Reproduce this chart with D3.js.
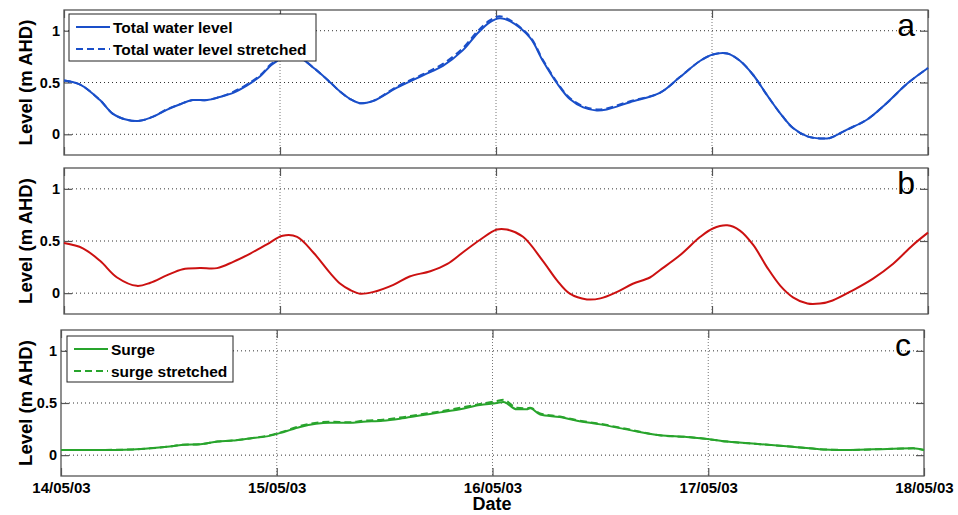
<!DOCTYPE html>
<html>
<head>
<meta charset="utf-8">
<script src="https://cdn.jsdelivr.net/npm/d3@7"></script>
<style>
  body { margin: 0; background: #fff; }
  svg { display: block; font-family: "Liberation Sans", Arial, sans-serif; }
  .tick-label { font-size: 14.5px; font-weight: bold; fill: #000; }
  .date-label { font-size: 15px; font-weight: bold; fill: #000; }
  .ylab { font-size: 18.5px; font-weight: bold; fill: #000; }
  .legend-text { font-size: 15.5px; font-weight: bold; fill: #000; }
  .panel-letter { font-size: 32px; fill: #000; }
</style>
</head>
<body>
<script>
// hours after 14/05/03 00:00
const hoursTotal = [0, 1.8, 4.0, 5.4, 7.0, 8.4, 9.9, 11.4, 12.9, 14.3, 15.9, 17.3, 18.8, 20.3, 21.8, 23.2, 25.1, 26.2, 27.9, 29.6,
  30.7, 31.8, 32.9, 34.3, 37.0, 39.9, 42.1, 44.3, 45.9, 47.3, 48.4, 49.6, 51.8, 53.2, 54.8, 56.2, 57.7, 59.2, 60.3, 62.9,
  66.2, 68.4, 70.7, 72.1, 73.7, 75.1, 76.6, 78.1, 79.6, 81.0, 82.6, 84.0, 85.1, 87.0, 89.2, 91.4, 93.7, 96.0];
const totalLevel = [0.52, 0.48, 0.33, 0.20, 0.14, 0.13, 0.17, 0.235, 0.29, 0.33, 0.33, 0.36, 0.40, 0.47, 0.56, 0.68, 0.76, 0.74, 0.63, 0.50,
  0.41, 0.34, 0.30, 0.32, 0.45, 0.57, 0.66, 0.81, 0.97, 1.08, 1.12, 1.09, 0.93, 0.71, 0.49, 0.34, 0.26, 0.23, 0.24, 0.31,
  0.40, 0.55, 0.71, 0.77, 0.78, 0.71, 0.57, 0.38, 0.20, 0.06, -0.02, -0.04, -0.035, 0.045, 0.14, 0.30, 0.49, 0.64];
const totalStretched = [0.52, 0.48, 0.33, 0.20, 0.14, 0.13, 0.17, 0.24, 0.29, 0.33, 0.33, 0.36, 0.41, 0.48, 0.57, 0.69, 0.76, 0.74, 0.63, 0.50,
  0.41, 0.34, 0.30, 0.32, 0.46, 0.58, 0.68, 0.83, 0.99, 1.10, 1.14, 1.10, 0.94, 0.72, 0.50, 0.35, 0.27, 0.24, 0.25, 0.32,
  0.40, 0.55, 0.71, 0.77, 0.78, 0.71, 0.57, 0.38, 0.20, 0.06, -0.02, -0.04, -0.035, 0.045, 0.14, 0.30, 0.49, 0.64];

const hoursTide = [0, 2.1, 4.0, 5.9, 8.1, 9.6, 11.4, 13.2, 15.1, 17.0, 18.8, 20.7, 22.6, 24.3, 25.9, 27.7, 29.6, 30.7, 31.8, 32.9,
  34.3, 36.6, 38.4, 40.7, 42.6, 44.3, 46.2, 48.1, 49.2, 51.0, 53.2, 54.8, 56.2, 58.1, 59.6, 61.4, 63.2, 65.1, 66.2, 68.4,
  70.7, 72.1, 73.7, 75.1, 76.6, 78.1, 79.6, 81.0, 82.6, 84.0, 85.4, 87.7, 89.9, 92.1, 94.3, 96.0];
const tideLevel = [0.48, 0.43, 0.31, 0.15, 0.07, 0.10, 0.17, 0.23, 0.24, 0.24, 0.30, 0.38, 0.47, 0.55, 0.54, 0.39, 0.19, 0.09, 0.03, -0.005,
  0.01, 0.08, 0.16, 0.21, 0.28, 0.39, 0.51, 0.61, 0.61, 0.54, 0.31, 0.12, -0.005, -0.06, -0.05, 0.01, 0.09, 0.15, 0.22, 0.36,
  0.54, 0.62, 0.65, 0.60, 0.46, 0.25, 0.07, -0.04, -0.10, -0.10, -0.07, 0.03, 0.14, 0.28, 0.46, 0.58];

const hoursSurge = [0, 4.3, 8.0, 9.9, 11.8, 13.6, 15.5, 17.4, 19.1, 21.0, 22.9, 24.7, 26.6, 29.9, 32.1, 33.6, 35.8, 37.7, 39.9, 42.2,
  44.4, 46.6, 48.5, 49.2, 50.7, 51.8, 52.2, 53.3, 55.5, 57.4, 60.0, 63.3, 66.6, 69.6, 71.4, 74.1, 77.8, 81.4, 84.8, 87.8,
  91.9, 94.8, 96];
const surge = [0.05, 0.05, 0.055, 0.065, 0.08, 0.10, 0.105, 0.13, 0.14, 0.16, 0.18, 0.22, 0.27, 0.31, 0.31, 0.32, 0.33, 0.35, 0.38, 0.41,
  0.44, 0.48, 0.50, 0.51, 0.44, 0.44, 0.45, 0.39, 0.365, 0.33, 0.295, 0.24, 0.19, 0.175, 0.16, 0.13, 0.105, 0.08, 0.055, 0.05,
  0.06, 0.065, 0.05];
const surgeStretched = [0.05, 0.05, 0.055, 0.065, 0.08, 0.10, 0.105, 0.13, 0.14, 0.16, 0.185, 0.225, 0.28, 0.32, 0.315, 0.33, 0.34, 0.36, 0.39, 0.42,
  0.455, 0.49, 0.52, 0.53, 0.455, 0.45, 0.455, 0.40, 0.37, 0.335, 0.30, 0.245, 0.19, 0.175, 0.16, 0.13, 0.105, 0.08, 0.055, 0.05,
  0.06, 0.065, 0.05];

const dateTicks = [0, 24, 48, 72, 96];
const dateLabels = ["14/05/03", "15/05/03", "16/05/03", "17/05/03", "18/05/03"];
const levelTicks = [0, 0.5, 1];
const levelTickLabels = ["0", "0.5", "1"];

const width = 958, height = 515;

const svg = d3.select("body").append("svg")
  .attr("width", width)
  .attr("height", height);

function drawPanel(p) {
  const x = d3.scaleLinear().domain([0, 96]).range([p.left, p.right]);
  const y = d3.scaleLinear().domain([-0.2, 1.2]).range([p.bottom, p.top]);
  const g = svg.append("g");

  // horizontal grid (dotted)
  g.selectAll(".hgrid").data(levelTicks).join("line")
    .attr("x1", p.left).attr("x2", p.right)
    .attr("y1", d => y(d)).attr("y2", d => y(d))
    .attr("stroke", "#333").attr("stroke-width", 1)
    .attr("stroke-dasharray", "1,3");

  // vertical grid (dotted, inner ticks only)
  g.selectAll(".vgrid").data(dateTicks.slice(1, -1)).join("line")
    .attr("x1", d => x(d)).attr("x2", d => x(d))
    .attr("y1", p.top).attr("y2", p.bottom)
    .attr("stroke", "#777").attr("stroke-width", 1)
    .attr("stroke-dasharray", "1,2");

  // axes with inward ticks
  const axL = d3.axisLeft(y).tickValues(levelTicks).tickSize(-8).tickFormat((d, i) => levelTickLabels[i]).tickPadding(4);
  const axR = d3.axisRight(y).tickValues(levelTicks).tickSize(-8).tickFormat("");
  const axT = d3.axisTop(x).tickValues(dateTicks).tickSize(-8).tickFormat("");
  const axB = d3.axisBottom(x).tickValues(dateTicks).tickSize(-8)
    .tickFormat((d, i) => p.showDates ? dateLabels[i] : "").tickPadding(6);

  [[axL, `translate(${p.left},0)`, "tick-label"], [axR, `translate(${p.right},0)`, "tick-label"],
   [axT, `translate(0,${p.top})`, "tick-label"], [axB, `translate(0,${p.bottom})`, "date-label"]].forEach(([ax, tr, cls]) => {
    const a = g.append("g").attr("transform", tr).call(ax)
      .attr("font-family", null).attr("font-size", null);
    a.select(".domain").remove();
    a.selectAll(".tick line").attr("stroke", "#555").attr("stroke-width", 1.2);
    a.selectAll(".tick text").attr("class", cls);
  });

  // frame
  g.append("rect")
    .attr("x", p.left).attr("y", p.top)
    .attr("width", p.right - p.left).attr("height", p.bottom - p.top)
    .attr("fill", "none").attr("stroke", "#555").attr("stroke-width", 1.3);

  // series
  p.series.forEach(s => {
    const line = d3.line()
      .x((d, i) => x(s.hours[i]))
      .y(d => y(d))
      .curve(s.curve);
    g.append("path")
      .datum(s.values)
      .attr("d", line)
      .attr("fill", "none")
      .attr("stroke", s.color)
      .attr("stroke-width", 2)
      .attr("stroke-dasharray", s.dash || null)
      .attr("stroke-linejoin", "round");
  });

  // y label
  g.append("text")
    .attr("class", "ylab")
    .attr("text-anchor", "middle")
    .attr("transform", `translate(${32},${(p.top + p.bottom) / 2}) rotate(-90)`)
    .text("Level (m AHD)");

  // panel letter
  g.append("text")
    .attr("class", "panel-letter")
    .attr("text-anchor", "end")
    .attr("x", p.right - 13)
    .attr("y", p.top + 26)
    .text(p.letter);

  // legend
  if (p.legend) {
    const L = p.legend;
    g.append("rect")
      .attr("x", L.x).attr("y", L.y).attr("width", L.w).attr("height", L.h)
      .attr("fill", "#fff").attr("stroke", "#222").attr("stroke-width", 1);
    L.items.forEach((it, i) => {
      const yy = L.y + 13 + i * 22;
      g.append("line")
        .attr("x1", L.x + 7).attr("x2", L.x + 41)
        .attr("y1", yy).attr("y2", yy)
        .attr("stroke", it.color).attr("stroke-width", 2)
        .attr("stroke-dasharray", it.dash || null);
      g.append("text")
        .attr("class", "legend-text")
        .attr("x", L.x + 44).attr("y", yy + 5.5)
        .text(it.label);
    });
  }
}

const blue = "#1a4fc9", red = "#cc1111", green = "#28a42c";
const smooth = d3.curveCatmullRom.alpha(0.5);

drawPanel({
  top: 10, bottom: 155, left: 64, right: 928, letter: "a", showDates: false,
  series: [
    { hours: hoursTotal, values: totalLevel, color: blue, curve: smooth },
    { hours: hoursTotal, values: totalStretched, color: blue, dash: "7,4", curve: smooth }
  ],
  legend: {
    x: 69, y: 14, w: 247, h: 47,
    items: [
      { label: "Total water level", color: blue },
      { label: "Total water level stretched", color: blue, dash: "7,4" }
    ]
  }
});

drawPanel({
  top: 168, bottom: 314, left: 64, right: 928, letter: "b", showDates: false,
  series: [
    { hours: hoursTide, values: tideLevel, color: red, curve: smooth }
  ]
});

drawPanel({
  top: 330, bottom: 476, left: 61, right: 924, letter: "c", showDates: true,
  series: [
    { hours: hoursSurge, values: surge, color: green, curve: d3.curveMonotoneX },
    { hours: hoursSurge, values: surgeStretched, color: green, dash: "7,4", curve: d3.curveMonotoneX }
  ],
  legend: {
    x: 67, y: 336, w: 166, h: 46,
    items: [
      { label: "Surge", color: green },
      { label: "surge stretched", color: green, dash: "7,4" }
    ]
  }
});

svg.append("text")
  .attr("x", 492).attr("y", 510)
  .attr("text-anchor", "middle")
  .style("font-size", "18px").style("font-weight", "bold")
  .text("Date");
</script>
</body>
</html>
